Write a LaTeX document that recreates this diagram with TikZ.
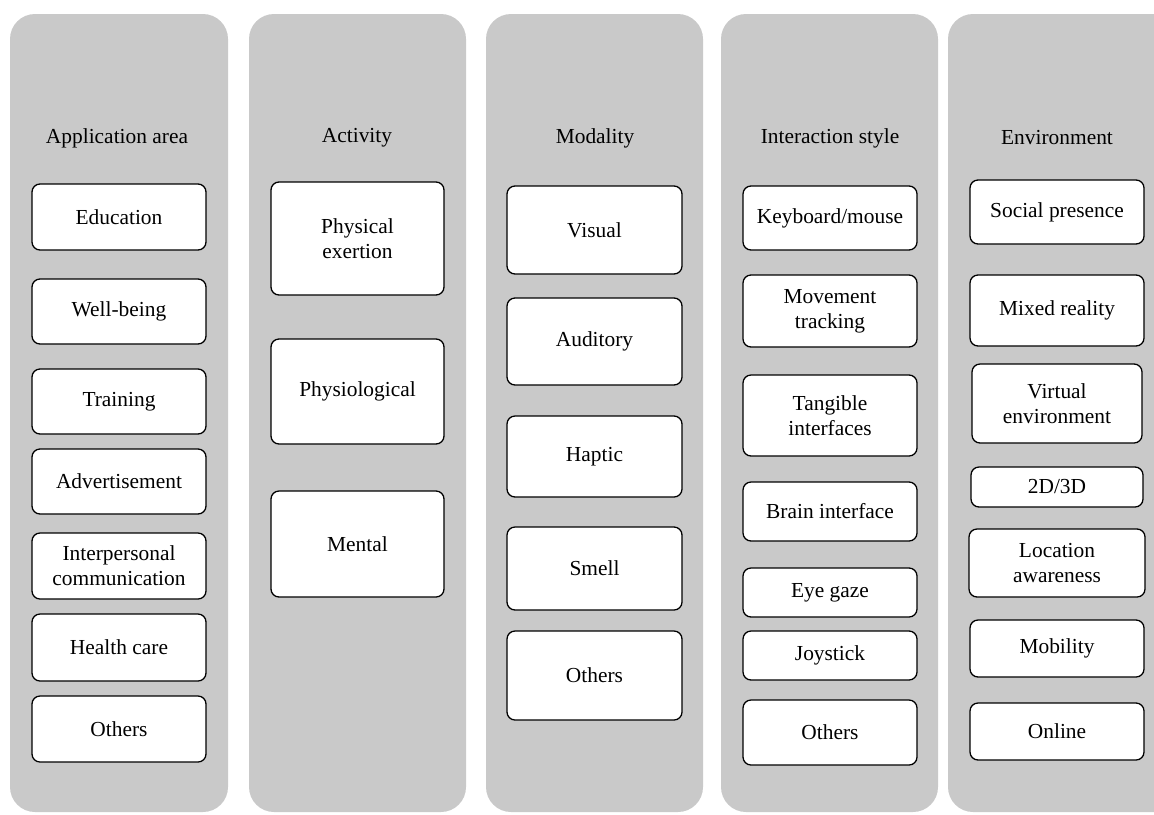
\documentclass[tikz,border=0pt]{standalone}
\usepackage{fontspec}
\setmainfont{Liberation Serif}
\definecolor{colgray}{RGB}{201,201,201}
\tikzset{
  colbg/.style={fill=colgray, draw=none, rounded corners=12.5pt},
  coltitle/.style={font=\fontsize{10.7}{12.5}\selectfont, inner sep=0pt},
  itembox/.style={draw=black, fill=white, line width=0.65pt, rounded corners=4pt,
    align=center, inner sep=0pt, font=\fontsize{10.7}{12.5}\selectfont}
}
\newcommand\itm[6]{\node[itembox, minimum width=#4*0.5pt, minimum height=#5*0.5pt] (#1) at (#2,#3) {#6};}
\begin{document}
\begin{tikzpicture}[x=0.5pt,y=-0.5pt]
\useasboundingbox (0,0) rectangle (1154,814);
\clip (0,0) rectangle (1154,814);
% columns
\fill[colbg] (10,14) rectangle (228,812);
\fill[colbg] (249,14) rectangle (466,812);
\fill[colbg] (486,14) rectangle (703,812);
\fill[colbg] (721,14) rectangle (938,812);
\fill[colbg] (948,14) rectangle (1180,812);
% titles
\node[coltitle] (t1) at (117,138) {Application area};
\node[coltitle] (t2) at (357,138) {Activity};
\node[coltitle] (t3) at (595,138) {Modality};
\node[coltitle] (t4) at (830,138) {Interaction style};
\node[coltitle] (t5) at (1057,138) {Environment};
% column 1
\itm{a1}{119}{217}{174}{66}{Education}
\itm{a2}{119}{311.5}{174}{65}{Well-being}
\itm{a3}{119}{401.5}{174}{65}{Training}
\itm{a4}{119}{481.5}{174}{65}{Advertisement}
\itm{a5}{119}{566}{174}{66}{Interpersonal\\communication}
\itm{a6}{119}{647.5}{174}{67}{Health care}
\itm{a7}{119}{729}{174}{66}{Others}
% column 2
\itm{b1}{357.5}{238.5}{173}{113}{Physical\\exertion}
\itm{b2}{357.5}{391.5}{173}{105}{Physiological}
\itm{b3}{357.5}{544}{173}{106}{Mental}
% column 3
\itm{c1}{594.5}{230}{175}{88}{Visual}
\itm{c2}{594.5}{341.5}{175}{87}{Auditory}
\itm{c3}{594.5}{456.5}{175}{81}{Haptic}
\itm{c4}{594.5}{568.5}{175}{83}{Smell}
\itm{c5}{594.5}{675.5}{175}{89}{Others}
% column 4
\itm{d1}{830}{218}{174}{64}{Keyboard/mouse}
\itm{d2}{830}{311}{174}{72}{Movement\\tracking}
\itm{d3}{830}{415.5}{174}{81}{Tangible\\interfaces}
\itm{d4}{830}{511.5}{174}{59}{Brain interface}
\itm{d5}{830}{592.5}{174}{49}{Eye gaze}
\itm{d6}{830}{655.5}{174}{49}{Joystick}
\itm{d7}{830}{732.5}{174}{65}{Others}
% column 5
\itm{e1}{1057}{212}{174}{64}{Social presence}
\itm{e2}{1057}{310.5}{174}{71}{Mixed reality}
\itm{e3}{1057}{403.5}{170}{79}{Virtual\\environment}
\itm{e4}{1057}{487}{172}{40}{2D/3D}
\itm{e5}{1057}{563}{176}{68}{Location\\awareness}
\itm{e6}{1057}{648.5}{174}{57}{Mobility}
\itm{e7}{1057}{731.5}{174}{57}{Online}
\end{tikzpicture}
\end{document}
